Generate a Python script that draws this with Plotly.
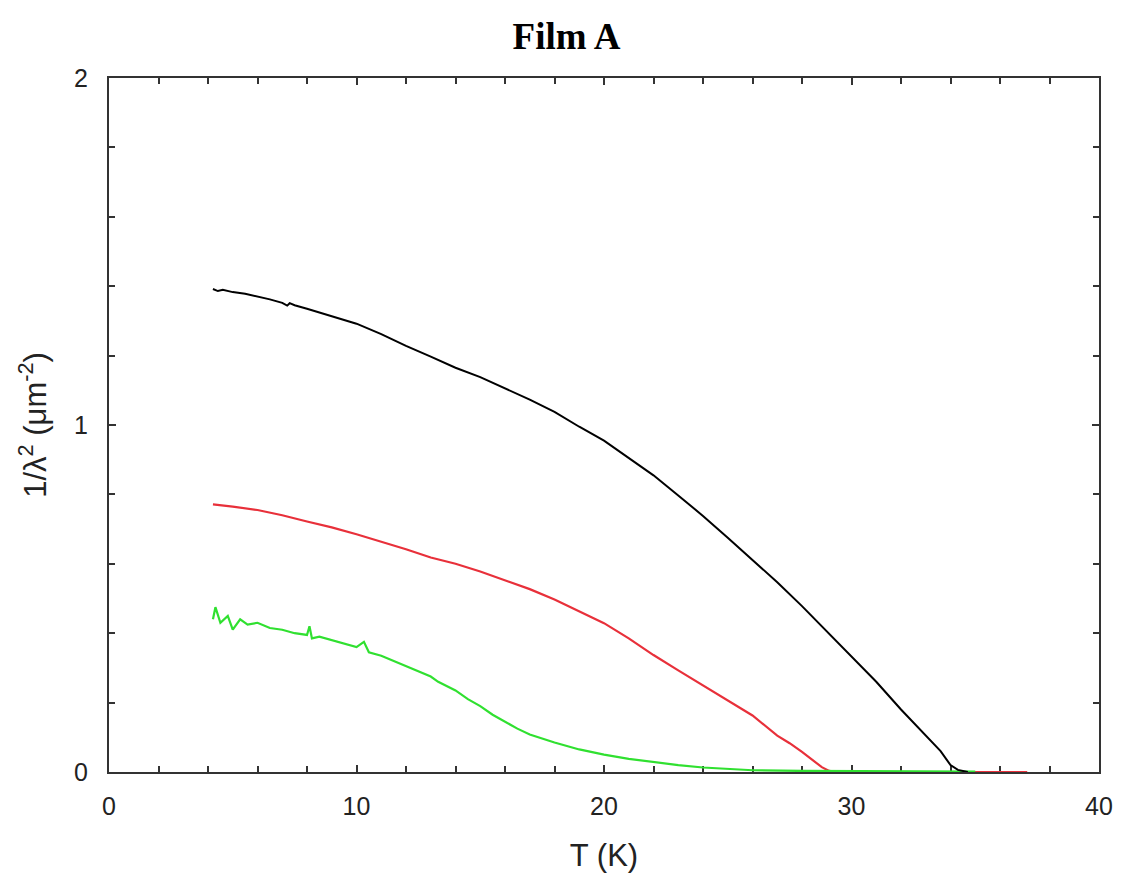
import plotly.graph_objects as go

# ---- data ----
T_black = [4.2, 4.4, 4.6, 5.0, 5.5, 6.0, 6.5, 7.0, 7.2, 7.3, 7.5, 8.0, 9.0, 10.0, 11.0, 12.0,
           13.0, 14.0, 15.0, 16.0, 17.0, 18.0, 19.0, 20.0, 21.0, 22.0, 23.0, 24.0, 25.0,
           26.0, 27.0, 28.0, 29.0, 30.0, 31.0, 32.0, 33.0, 33.6, 34.0, 34.3, 34.7]
y_black = [1.392, 1.386, 1.390, 1.383, 1.378, 1.371, 1.362, 1.352, 1.344, 1.351, 1.345, 1.335,
           1.313, 1.292, 1.262, 1.228, 1.197, 1.165, 1.138, 1.106, 1.073, 1.038, 0.995,
           0.955, 0.905, 0.855, 0.797, 0.738, 0.675, 0.612, 0.547, 0.478, 0.405, 0.333,
           0.26, 0.18, 0.105, 0.06, 0.02, 0.006, 0.0]

T_red = [4.2, 5.0, 6.0, 7.0, 8.0, 9.0, 10.0, 11.0, 12.0, 13.0, 14.0, 15.0, 16.0, 17.0,
         18.0, 19.0, 20.0, 21.0, 22.0, 23.0, 24.0, 25.0, 26.0, 27.0, 27.5, 28.0, 28.5,
         28.8, 29.1, 29.4, 33.0, 37.1]
y_red = [0.771, 0.765, 0.755, 0.74, 0.722, 0.705, 0.685, 0.664, 0.642, 0.618, 0.6, 0.578,
         0.553, 0.527, 0.497, 0.464, 0.429, 0.385, 0.337, 0.293, 0.25, 0.207, 0.163,
         0.105, 0.083, 0.058, 0.03, 0.014, 0.003, 0.0, 0.0, 0.0]

T_green = [4.2, 4.3, 4.5, 4.8, 5.0, 5.3, 5.6, 6.0, 6.5, 7.0, 7.5, 8.0, 8.1, 8.2, 8.5, 9.0,
           9.5, 10.0, 10.3, 10.5, 11.0, 11.5, 12.0, 12.5, 13.0, 13.3, 14.0, 14.5, 15.0,
           15.5, 16.0, 16.5, 17.0, 17.5, 18.0, 19.0, 20.0, 21.0, 22.0, 23.0, 24.0, 25.0,
           26.0, 28.0, 30.0, 35.0]
y_green = [0.44, 0.475, 0.43, 0.45, 0.41, 0.44, 0.425, 0.43, 0.415, 0.41, 0.40, 0.395,
           0.42, 0.385, 0.39, 0.38, 0.37, 0.36, 0.375, 0.345, 0.335, 0.32, 0.305, 0.29,
           0.275, 0.26, 0.235, 0.21, 0.19, 0.165, 0.145, 0.125, 0.108, 0.096, 0.085,
           0.065, 0.05, 0.038, 0.028, 0.02, 0.013, 0.008, 0.005, 0.003, 0.002, 0.001]

x_ticks = [0, 10, 20, 30, 40]
y_ticks = [0, 1, 2]

fig = go.Figure()
fig.add_trace(go.Scatter(x=T_red, y=y_red, mode="lines",
                         line=dict(color="#e8303a", width=2.2), showlegend=False))
fig.add_trace(go.Scatter(x=T_green, y=y_green, mode="lines",
                         line=dict(color="#30e030", width=2.2), showlegend=False))
fig.add_trace(go.Scatter(x=T_black, y=y_black, mode="lines",
                         line=dict(color="#000000", width=2), showlegend=False))

axis_common = dict(
    showgrid=False, zeroline=False, showline=True, linecolor="#333333", linewidth=2,
    mirror="allticks", ticks="inside", ticklen=7, tickwidth=2, tickcolor="#333333",
    layer="below traces",
    tickfont=dict(family="Liberation Sans, Arial, sans-serif", size=25, color="#222222"),
)

# page body has an 8px margin, so the figure is sized/offset to compensate
fig.update_layout(
    width=1117, height=871,
    paper_bgcolor="white", plot_bgcolor="white",
    margin=dict(l=101, r=17, t=70, b=106),
    title=dict(text="<b>Film A</b>", x=0.5, xanchor="center", y=0.968, yanchor="middle",
               font=dict(family="Liberation Serif, Times New Roman, serif", size=37,
                         color="black")),
    xaxis=dict(axis_common, range=[0, 40], tickmode="array", tickvals=x_ticks,
               ticktext=[str(v) for v in x_ticks],
               minor=dict(dtick=2, tick0=0, ticks="inside", ticklen=6, tickwidth=2,
                          tickcolor="#333333", showgrid=False),
               ticklabelstandoff=11,
               title=dict(text="T (K)", standoff=25,
                          font=dict(family="Liberation Sans, Arial, sans-serif", size=31,
                                    color="#222222"))),
    yaxis=dict(axis_common, range=[0, 2], tickmode="array", tickvals=y_ticks,
               ticktext=[str(v) for v in y_ticks],
               minor=dict(dtick=0.2, tick0=0, ticks="inside", ticklen=6, tickwidth=2,
                          tickcolor="#333333", showgrid=False),
               ticklabelstandoff=14,
               title=dict(text="1/λ<sup>2</sup> (μm<sup>-2</sup>)", standoff=18,
                          font=dict(family="Liberation Sans, Arial, sans-serif", size=31,
                                    color="#222222"))),
)

fig.write_html("out.html")
